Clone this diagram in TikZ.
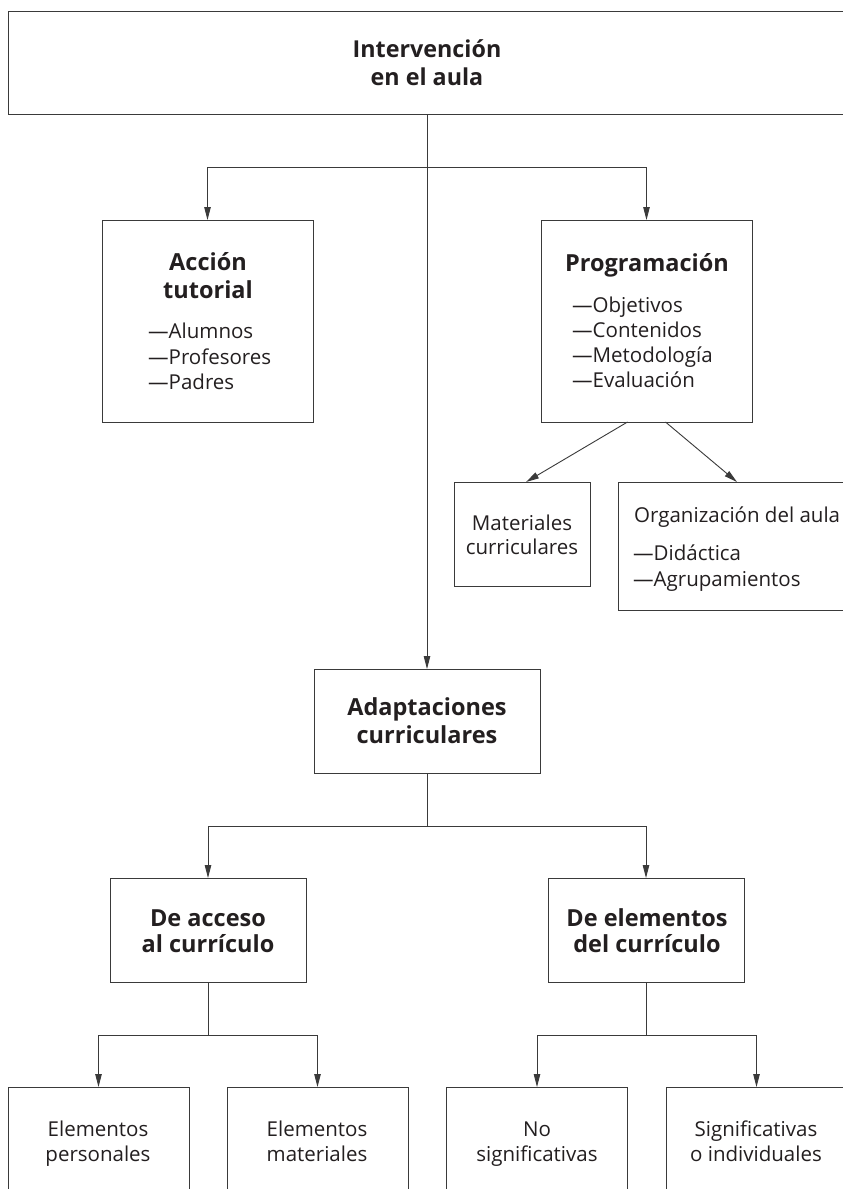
\documentclass[tikz,border=0pt]{standalone}
\usepackage{fontspec}
\setmainfont{Open Sans}
\usetikzlibrary{arrows.meta}
\definecolor{ink}{HTML}{231F20}
\definecolor{ln}{HTML}{3A3A3A}
\begin{document}
\begin{tikzpicture}[x=1pt,y=-1pt,
  box/.style={draw=ln, line width=0.9pt, inner sep=0pt, outer sep=0pt},
  conn/.style={draw=ln, line width=0.9pt},
  arr/.style={conn, -{Triangle[length=13pt,width=6.5pt]}},
  ttl/.style={font=\bfseries\fontsize{23.3}{28}\selectfont, text=ink, anchor=base, inner sep=0pt},
  hd/.style={font=\bfseries\fontsize{23.5}{27}\selectfont, text=ink, anchor=base, inner sep=0pt},
  tx/.style={font=\fontsize{20.5}{25}\selectfont, text=ink, anchor=base, inner sep=0pt},
  li/.style={tx, anchor=base west}]
\useasboundingbox (0,0) rectangle (843,1189);
\fill[white] (0,0) rectangle (843,1189);

% boxes
\node[box, minimum width=838pt, minimum height=103pt] (top) at (427,62.5) {};
\node[box, minimum width=211pt, minimum height=202pt] (acc) at (207.5,321) {};
\node[box, minimum width=211pt, minimum height=202pt] (prog) at (646.5,321) {};
\node[box, minimum width=136pt, minimum height=104pt] (mat) at (522,534) {};
\node[box, minimum width=238pt, minimum height=128pt] (org) at (737,546) {};
\node[box, minimum width=226pt, minimum height=104pt] (adapt) at (427,721) {};
\node[box, minimum width=196pt, minimum height=104pt] (acceso) at (208,930) {};
\node[box, minimum width=196pt, minimum height=104pt] (elem) at (646,930) {};
\node[box, minimum width=181pt, minimum height=150pt] (b1) at (98.5,1162) {};
\node[box, minimum width=181pt, minimum height=150pt] (b2) at (317.5,1162) {};
\node[box, minimum width=181pt, minimum height=150pt] (b3) at (537,1162) {};
\node[box, minimum width=181pt, minimum height=150pt] (b4) at (756.5,1162) {};

% texts
\node[ttl] (top1) at (427,57.5) {Intervención};
\node[ttl] (top2) at (427,85) {en el aula};

\node[hd] (acc1) at (208,270) {Acción};
\node[hd] (acc2) at (208,298) {tutorial};
\node[li] (acc3) at (148,338.5) {—Alumnos};
\node[li] (acc4) at (148,364) {—Profesores};
\node[li] (acc5) at (148,389) {—Padres};

\node[hd] (prog1) at (647,271) {Programación};
\node[li] (prog2) at (572,312) {—Objetivos};
\node[li] (prog3) at (572,337) {—Contenidos};
\node[li] (prog4) at (572,362) {—Metodología};
\node[li] (prog5) at (572,387) {—Evaluación};

\node[tx] (mat1) at (522,530) {Materiales};
\node[tx] (mat2) at (522,554) {curriculares};

\node[li] (org1) at (634,522) {Organización del aula};
\node[li] (org2) at (633,560) {—Didáctica};
\node[li] (org3) at (633,586) {—Agrupamientos};

\node[hd] (ad1) at (427,715) {Adaptaciones};
\node[hd] (ad2) at (427,743) {curriculares};

\node[hd] (ac1) at (208,926) {De acceso};
\node[hd] (ac2) at (208,952) {al currículo};
\node[hd] (el1) at (647,926) {De elementos};
\node[hd] (el2) at (647,952) {del currículo};

\node[tx] (b1a) at (98,1136) {Elementos};
\node[tx] (b1b) at (98,1161) {personales};
\node[tx] (b2a) at (317,1136) {Elementos};
\node[tx] (b2b) at (317,1161) {materiales};
\node[tx] (b3a) at (537,1136) {No};
\node[tx] (b3b) at (537,1161) {significativas};
\node[tx] (b4a) at (756,1136) {Significativas};
\node[tx] (b4b) at (756,1161) {o individuales};

% junctions
\coordinate (j1) at (427,167);
\coordinate (j2) at (427,826);
\coordinate (j3) at (208,1035);
\coordinate (j4) at (646,1035);

% connectors
\draw[arr] (top.south) -- (adapt.north);
\draw[arr] (j1) -| (acc.north);
\draw[arr] (j1) -| (prog.north);
\draw[arr] ([xshift=-19pt]prog.south) -- ([xshift=4pt]mat.north);
\draw[arr] ([xshift=19pt]prog.south) -- (org.north);
\draw[conn] (adapt.south) -- (j2);
\draw[arr] (j2) -| (acceso.north);
\draw[arr] (j2) -| (elem.north);
\draw[conn] (acceso.south) -- (j3);
\draw[arr] (j3) -| (b1.north);
\draw[arr] (j3) -| (b2.north);
\draw[conn] (elem.south) -- (j4);
\draw[arr] (j4) -| (b3.north);
\draw[arr] (j4) -| (b4.north);
\end{tikzpicture}
\end{document}
